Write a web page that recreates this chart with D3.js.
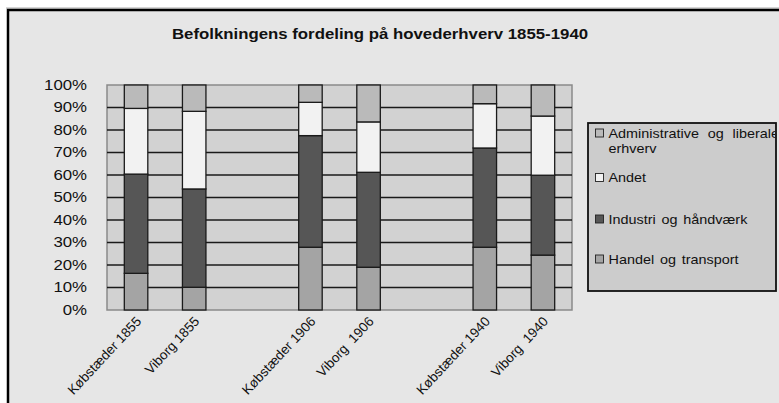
<!DOCTYPE html>
<html><head><meta charset="utf-8">
<script src="https://cdn.jsdelivr.net/npm/d3@7"></script>
<style>body{margin:0;background:#fff;}svg{display:block;font-family:"Liberation Sans",Arial,sans-serif;}</style>
</head><body>
<svg id="c" width="779" height="403"></svg>
<script>
const categories = ["Købstæder 1855","Viborg 1855","","Købstæder 1906","Viborg  1906","","Købstæder 1940","Viborg  1940"];
const seriesNames = ["Handel og transport","Industri og håndværk","Andet","Administrative og liberale erhverv"];
const handel   = [16.3, 10.1, null, 27.9, 19.0, null, 27.9, 24.4];
const industri = [44.1, 43.7, null, 49.6, 42.2, null, 44.1, 35.5];
const andet    = [29.2, 34.5, null, 14.8, 22.4, null, 19.7, 26.3];
const admin    = [10.4, 11.7, null,  7.7, 16.4, null,  8.3, 13.8];
const yTicks = [0,10,20,30,40,50,60,70,80,90,100];
const colors = ["#a4a4a4","#565656","#f2f2f2","#bababa"];
const SX = 1.2; // horizontal text stretch seen in the reference

const svg = d3.select("#c");
svg.append("line").attr("x1",6).attr("x2",779).attr("y1",8).attr("y2",8).attr("stroke","#aaa").attr("stroke-width",1);
svg.append("rect").attr("x",8).attr("y",10).attr("width",800).attr("height",420)
  .attr("fill","#e6e6e6").attr("stroke","#000").attr("stroke-width",2.5);

function stext(g, x, y, str, size, anchor){
  return g.append("text").attr("transform",`translate(${x},${y}) scale(${SX},1)`)
    .attr("font-size",size).attr("fill","#111").attr("text-anchor",anchor||"start").text(str);
}

stext(svg, 380, 39, "Befolkningens fordeling på hovederhverv 1855-1940", 14, "middle").attr("font-weight","bold");

const L=107, R=572, T=85, B=310;
const x = d3.scaleBand().domain(d3.range(categories.length)).range([L,R]);
const y = d3.scaleLinear().domain([0,100]).range([B,T]);

svg.append("rect").attr("x",L).attr("y",T).attr("width",R-L).attr("height",B-T)
  .attr("fill","#d2d2d2").attr("stroke","#8a8a8a").attr("stroke-width",1.5);

svg.append("g").selectAll("line").data(yTicks.filter(t=>t>0&&t<100)).join("line")
  .attr("x1",L).attr("x2",R).attr("y1",d=>y(d)).attr("y2",d=>y(d))
  .attr("stroke","#1a1a1a").attr("stroke-width",1.5);

const yAxis = d3.axisLeft(y).tickValues(yTicks).tickFormat(d=>d+"%").tickSize(0).tickPadding(0);
const ga = svg.append("g").attr("transform",`translate(${L-20},0)`).call(yAxis);
ga.select(".domain").remove();
ga.selectAll("text").attr("font-size",14).attr("fill","#111")
  .attr("font-family","Liberation Sans, Arial, sans-serif").attr("x",null)
  .attr("transform",`scale(${SX},1)`);

const rows = categories.map((c,i)=>({i, h:handel[i], ind:industri[i], a:andet[i], ad:admin[i]}));
const stacked = d3.stack().keys(["h","ind","a","ad"]).value((d,k)=>d[k]||0)(rows);
const bw = 23.5;
stacked.forEach((s,si)=>{
  svg.append("g").selectAll("rect").data(s.filter(d=>d.data.h!==null)).join("rect")
    .attr("x",d=>x(d.data.i)+x.bandwidth()/2-bw/2).attr("width",bw)
    .attr("y",d=>y(d[1])).attr("height",d=>y(d[0])-y(d[1]))
    .attr("fill",colors[si]).attr("stroke","#1a1a1a").attr("stroke-width",1.3);
});

svg.append("g").selectAll("text").data(categories.map((c,i)=>({c,i})).filter(d=>d.c)).join("text")
  .attr("transform",d=>`translate(${x(d.i)+x.bandwidth()/2+6},${B+12}) rotate(-47)`)
  .attr("text-anchor","end").attr("font-size",13.5).attr("fill","#111")
  .style("white-space","pre").text(d=>d.c);

const lg = svg.append("g");
lg.append("rect").attr("x",588).attr("y",123).attr("width",188).attr("height",168)
  .attr("fill","#cccccc").attr("stroke","#111").attr("stroke-width",1.8);
svg.append("clipPath").attr("id","lc").append("rect").attr("x",588).attr("y",123).attr("width",187).attr("height",168);
const items = [
  {k:3, lines:["Administrative og liberale","erhverv"], cy:133},
  {k:2, lines:["Andet"], cy:177.5},
  {k:1, lines:["Industri og håndværk"], cy:219},
  {k:0, lines:["Handel og transport"], cy:259}
];
const lgi = lg.append("g").attr("clip-path","url(#lc)");
items.forEach(it=>{
  lgi.append("rect").attr("x",595.5).attr("y",it.cy-4).attr("width",8).attr("height",8)
    .attr("fill",colors[it.k]).attr("stroke","#222").attr("stroke-width",0.9);
  it.lines.forEach((ln,j)=>{
    stext(lgi, 608.5, it.cy+4.5+j*15, ln, 12).attr("word-spacing", j===0&&it.k===3?4:1.5);
  });
});
</script>
</body></html>
